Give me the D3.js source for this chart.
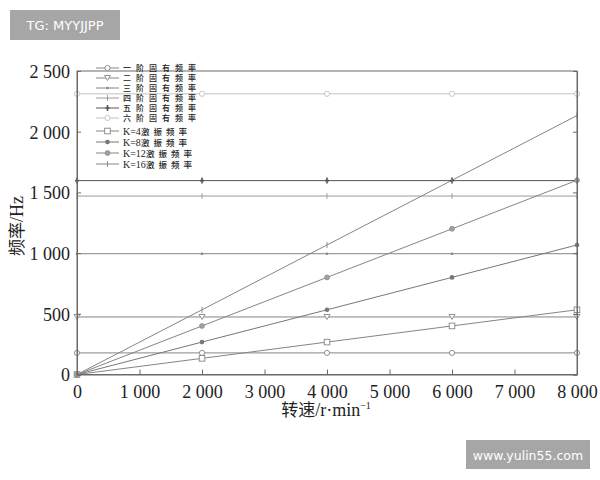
<!DOCTYPE html>
<html><head><meta charset="utf-8">
<script src="https://cdn.jsdelivr.net/npm/d3@7"></script>
<style>body{margin:0;background:#fff}</style>
</head><body>
<svg id="c" width="600" height="480"></svg>
<script>
const rpm = [0, 2000, 4000, 6000, 8000];
const seriesNames = ["一阶固有频率","二阶固有频率","三阶固有频率","四阶固有频率","五阶固有频率","六阶固有频率","K=4激振频率","K=8激振频率","K=12激振频率","K=16激振频率"];
const f1 = [178, 178, 178, 178, 178];
const f2 = [474, 474, 474, 474, 474];
const f3 = [995, 995, 995, 995, 995];
const f4 = [1470, 1470, 1470, 1470, 1470];
const f5 = [1597, 1597, 1597, 1597, 1597];
const f6 = [2312, 2312, 2312, 2312, 2312];
const k4 = [0, 133, 267, 400, 533];
const k8 = [0, 267, 533, 800, 1067];
const k12 = [0, 400, 800, 1200, 1600];
const k16 = [0, 533, 1067, 1600, 2133];
const xTicks = [0,1000,2000,3000,4000,5000,6000,7000,8000];
const yTicks = [0,500,1000,1500,2000,2500];

const allValues = [f1,f2,f3,f4,f5,f6,k4,k8,k12,k16];
const styles = [
  {c:"#858585", m:"circle"},
  {c:"#858585", m:"tri"},
  {c:"#858585", m:"dot"},
  {c:"#9a9a9a", m:"tick"},
  {c:"#555", m:"plus"},
  {c:"#c2c2c2", m:"circleLight"},
  {c:"#858585", m:"square"},
  {c:"#777", m:"fill"},
  {c:"#858585", m:"fillGray"},
  {c:"#858585", m:"tick"}
];

const svg = d3.select("#c");
const x = d3.scaleLinear().domain([0,8000]).range([77,577]);
const y = d3.scaleLinear().domain([0,2500]).range([374.5,71]);
const fmt = v => d3.format(",")(v).replace(",", " ");
const serif = "'Liberation Serif','Times New Roman',Times,'DejaVu Serif',serif";
const cjk = "'Noto Sans CJK SC',sans-serif";

const line = d3.line().x((d,i)=>x(rpm[i])).y(d=>y(d));
function marker(g, type, cx, cy, col){
  if(type==="circle"||type==="circleLight") g.append("circle").attr("cx",cx).attr("cy",cy).attr("r",2.6).attr("fill","#fff").attr("stroke",col).attr("stroke-width",0.9);
  else if(type==="tri") g.append("path").attr("d",`M${cx-3},${cy-2.5}L${cx+3},${cy-2.5}L${cx},${cy+2.5}Z`).attr("fill","#fff").attr("stroke",col).attr("stroke-width",0.9);
  else if(type==="dot") g.append("circle").attr("cx",cx).attr("cy",cy).attr("r",1.3).attr("fill",col);
  else if(type==="tick") g.append("path").attr("d",`M${cx},${cy-3}V${cy+3}`).attr("stroke",col).attr("stroke-width",0.9);
  else if(type==="plus") g.append("path").attr("d",`M${cx},${cy-3}V${cy+3}M${cx-2},${cy}H${cx+2}`).attr("stroke",col).attr("stroke-width",1.6);
  else if(type==="square") g.append("rect").attr("x",cx-2.8).attr("y",cy-2.8).attr("width",5.6).attr("height",5.6).attr("fill","#fff").attr("stroke",col).attr("stroke-width",0.9);
  else if(type==="fill") g.append("circle").attr("cx",cx).attr("cy",cy).attr("r",2.3).attr("fill",col);
  else if(type==="fillGray") g.append("circle").attr("cx",cx).attr("cy",cy).attr("r",2.5).attr("fill","#a0a0a0").attr("stroke",col).attr("stroke-width",0.6);
}
const gs = svg.append("g");
allValues.forEach((vals,si)=>{
  gs.append("path").attr("d",line(vals)).attr("fill","none").attr("stroke",styles[si].c).attr("stroke-width",1);
});
allValues.forEach((vals,si)=>{
  vals.forEach((v,i)=>marker(gs, styles[si].m, x(rpm[i]), y(v), styles[si].c));
});

const ax = "#6a6a6a";
svg.append("rect").attr("x",77).attr("y",71).attr("width",500).attr("height",303.5).attr("fill","none").attr("stroke",ax).attr("stroke-width",1);
const gx = svg.append("g").attr("transform","translate(0,374.5)")
  .call(d3.axisBottom(x).tickValues(xTicks).tickSize(-5).tickPadding(11).tickFormat(fmt));
const gy = svg.append("g").attr("transform","translate(77,0)")
  .call(d3.axisLeft(y).tickValues(yTicks).tickSize(-4).tickPadding(7).tickFormat(fmt));
const gyr = svg.append("g").attr("transform","translate(577,0)")
  .call(d3.axisRight(y).tickValues(yTicks).tickSize(-4).tickFormat(""));
[gx,gy,gyr].forEach(g=>{
  g.select(".domain").attr("stroke",ax);
  g.selectAll(".tick line").attr("stroke",ax);
  g.selectAll("text").attr("fill","#222").style("font-family",serif).style("font-size","18px");
});
gx.selectAll("text").attr("dy","0.71em");
gy.selectAll("text").attr("dy","0.36em");

const xt = svg.append("text").attr("x",326).attr("y",416).attr("text-anchor","middle").attr("fill","#222").attr("font-size",17);
xt.append("tspan").attr("font-family",cjk).text("转速");
xt.append("tspan").attr("font-family",serif).attr("font-size",18).text("/r·min");
xt.append("tspan").attr("font-family",serif).attr("font-size",10).attr("dy","-7").text("−1");
const yt = svg.append("text").attr("transform","translate(23,226) rotate(-90)").attr("text-anchor","middle").attr("fill","#222").attr("font-size",17);
yt.append("tspan").attr("font-family",cjk).text("频率");
yt.append("tspan").attr("font-family",serif).attr("font-size",18).text("/Hz");

const legRows = [68,78,88,98,108,118,131,142,153,164];
const lg = svg.append("g");
seriesNames.forEach((n,i)=>{
  const st = styles[i], yy = legRows[i];
  lg.append("path").attr("d",`M96,${yy}H119`).attr("stroke",st.c).attr("stroke-width",1);
  marker(lg, st.m, 107.5, yy, st.c);
  const m = n.match(/^(K=\d+)(.*)$/);
  if(m){
    const t = lg.append("text").attr("x",123).attr("y",yy+3.5).attr("fill","#222").attr("font-size",8.5);
    t.append("tspan").attr("font-family",serif).attr("font-size",10).text(m[1]);
    t.append("tspan").attr("font-family",cjk).attr("letter-spacing",4).attr("font-weight",500).text(m[2]);
  } else {
    lg.append("text").attr("x",123).attr("y",yy+3).attr("fill","#222").attr("font-size",8)
      .attr("font-family",cjk).attr("font-weight",500).attr("letter-spacing",5).text(n);
  }
});

svg.append("rect").attr("x",10).attr("y",10).attr("width",110).attr("height",30).attr("fill","#a6a6a6");
svg.append("text").attr("x",65).attr("y",30).attr("text-anchor","middle").attr("fill","#fff").attr("font-family","'DejaVu Sans',sans-serif").attr("font-size",13).text("TG: MYYJJPP");
svg.append("rect").attr("x",466).attr("y",440).attr("width",124).attr("height",29).attr("fill","#a6a6a6");
svg.append("text").attr("x",528).attr("y",459.5).attr("text-anchor","middle").attr("fill","#fff").attr("font-family","'DejaVu Sans',sans-serif").attr("font-size",12.5).text("www.yulin55.com");
</script>
</body></html>
